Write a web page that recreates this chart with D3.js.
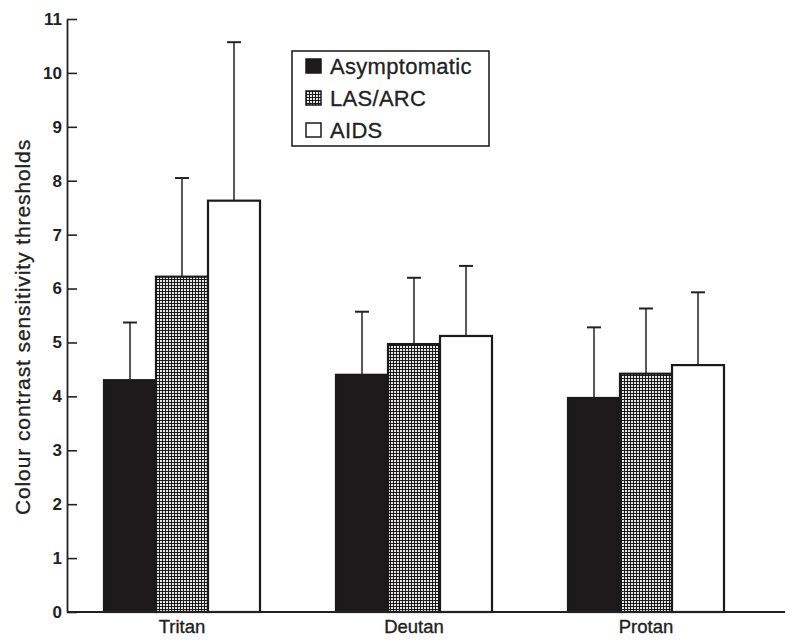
<!DOCTYPE html>
<html>
<head>
<meta charset="utf-8">
<script src="https://cdn.jsdelivr.net/npm/d3@7"></script>
<style>
  body { margin: 0; background: #fff; }
  svg { display: block; font-family: "Liberation Sans", Arial, sans-serif; }
</style>
</head>
<body>
<div id="chart"></div>
<script>
// data
const categories = ["Tritan", "Deutan", "Protan"];
const series = ["Asymptomatic", "LAS/ARC", "AIDS"];
const asymptomatic = [4.30, 4.40, 3.97];
const lasArc = [6.22, 4.97, 4.42];
const aids = [7.63, 5.12, 4.58];
const asymptomaticErr = [1.07, 1.17, 1.31];
const lasArcErr = [1.83, 1.23, 1.21];
const aidsErr = [2.94, 1.30, 1.35];
const yTicks = [0, 1, 2, 3, 4, 5, 6, 7, 8, 9, 10, 11];

const FRAME_WIDTH = 794;
const FRAME_HEIGHT = 643;
const MARGINS = {left: 67, right: 10, top: 19, bottom: 31};
const VIS_HEIGHT = FRAME_HEIGHT - MARGINS.top - MARGINS.bottom;

const values = [asymptomatic, lasArc, aids];
const errs = [asymptomaticErr, lasArcErr, aidsErr];

const data = [];
categories.forEach((c, i) => {
  series.forEach((s, j) => {
    data.push({cat: c, ser: s, idx: j, value: values[j][i], err: errs[j][i]});
  });
});

const svg = d3.select("#chart")
  .append("svg")
    .attr("width", FRAME_WIDTH)
    .attr("height", FRAME_HEIGHT);

// hatched fill for LAS/ARC
const defs = svg.append("defs");
const pat = defs.append("pattern")
    .attr("id", "grid")
    .attr("patternUnits", "userSpaceOnUse")
    .attr("width", 3)
    .attr("height", 3);
pat.append("rect").attr("width", 3).attr("height", 3).attr("fill", "#1a1a1a");
pat.append("rect").attr("x", 1).attr("y", 1).attr("width", 2).attr("height", 2).attr("fill", "#e8e8e8");

const fills = {"Asymptomatic": "#1c1a1a", "LAS/ARC": "url(#grid)", "AIDS": "#fff"};

const X_SCALE = d3.scaleBand()
  .domain(categories)
  .range([MARGINS.left - 1, MARGINS.left + 695]);

const X_SUB = d3.scaleBand()
  .domain(series)
  .range([-78, 78]);

const Y_SCALE = d3.scaleLinear()
  .domain([0, 11])
  .range([MARGINS.top + VIS_HEIGHT, MARGINS.top]);

// bars
svg.selectAll(".bar")
  .data(data)
  .enter().append("rect")
    .attr("class", "bar")
    .attr("x", d => X_SCALE(d.cat) + X_SCALE.bandwidth() / 2 + X_SUB(d.ser))
    .attr("y", d => Y_SCALE(d.value))
    .attr("width", X_SUB.bandwidth())
    .attr("height", d => Y_SCALE(0) - Y_SCALE(d.value))
    .attr("fill", d => fills[d.ser])
    .attr("stroke", "#1a1a1a")
    .attr("stroke-width", 2.2);

// error bars
const cx = d => X_SCALE(d.cat) + X_SCALE.bandwidth() / 2 + X_SUB(d.ser) + X_SUB.bandwidth() / 2;
svg.selectAll(".err")
  .data(data)
  .enter().append("line")
    .attr("x1", cx).attr("x2", cx)
    .attr("y1", d => Y_SCALE(d.value))
    .attr("y2", d => Y_SCALE(d.value + d.err))
    .attr("stroke", "#222")
    .attr("stroke-width", 1.5);
svg.selectAll(".cap")
  .data(data)
  .enter().append("line")
    .attr("x1", d => cx(d) - 7).attr("x2", d => cx(d) + 7)
    .attr("y1", d => Y_SCALE(d.value + d.err))
    .attr("y2", d => Y_SCALE(d.value + d.err))
    .attr("stroke", "#222")
    .attr("stroke-width", 2);

// y axis, ticks pointing inward
const yAxis = svg.append("g")
  .attr("transform", "translate(" + MARGINS.left + ",0)")
  .call(d3.axisLeft(Y_SCALE).tickValues(yTicks).tickSizeInner(-10).tickSizeOuter(0).tickPadding(5));
yAxis.select(".domain").attr("stroke", "#222").attr("stroke-width", 1.8);
yAxis.selectAll(".tick line").attr("stroke", "#222").attr("stroke-width", 1.6);
yAxis.selectAll(".tick text")
  .attr("font-size", 17)
  .attr("font-weight", "bold")
  .attr("fill", "#222");

// x axis
const xAxis = svg.append("g")
  .attr("transform", "translate(0," + Y_SCALE(0) + ")")
  .call(d3.axisBottom(X_SCALE).tickSize(0).tickPadding(8));
xAxis.select(".domain").attr("d", "M" + MARGINS.left + ",0H785").attr("stroke", "#222").attr("stroke-width", 1.8);
xAxis.selectAll(".tick text")
  .attr("font-size", 18.5)
  .attr("fill", "#222")
  .attr("stroke", "#222")
  .attr("stroke-width", 0.35);

// y axis title
svg.append("text")
  .attr("transform", "translate(30," + 327 + ") rotate(-90)")
  .attr("text-anchor", "middle")
  .attr("font-size", 21)
  .attr("letter-spacing", 0.9)
  .attr("fill", "#222")
  .attr("stroke", "#222")
  .attr("stroke-width", 0.3)
  .text("Colour contrast sensitivity thresholds");

// legend
const legend = svg.append("g").attr("transform", "translate(292,51)");
legend.append("rect")
  .attr("width", 197).attr("height", 95)
  .attr("fill", "#fff").attr("stroke", "#222").attr("stroke-width", 1.6);
const rows = legend.selectAll(".row")
  .data(series)
  .enter().append("g")
    .attr("transform", (d, i) => "translate(14," + (8 + i * 32) + ")");
rows.append("rect")
  .attr("width", 15).attr("height", 14)
  .attr("fill", d => fills[d])
  .attr("stroke", "#1a1a1a").attr("stroke-width", 1.5);
rows.append("text")
  .attr("x", 24).attr("y", 15)
  .attr("font-size", 22)
  .attr("letter-spacing", 0.3)
  .attr("fill", "#222")
  .attr("stroke", "#222")
  .attr("stroke-width", 0.3)
  .text(d => d);
</script>
</body>
</html>
